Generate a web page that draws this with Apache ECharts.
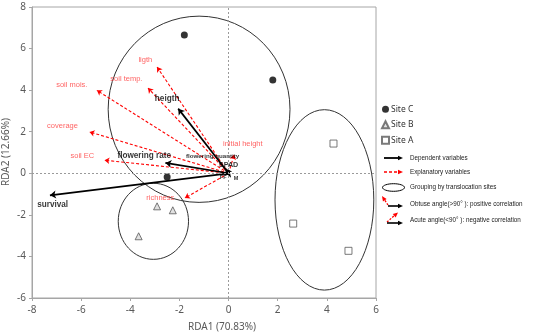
<!DOCTYPE html>
<html><head><meta charset="utf-8">
<script src="https://cdn.jsdelivr.net/npm/echarts@6/dist/echarts.min.js"></script>
<style>html,body{margin:0;padding:0;background:#fff}#c{width:550px;height:334px}</style>
</head><body><div id="c"></div>
<script>
// ---- data ----
const xTicks = [-8, -6, -4, -2, 0, 2, 4, 6];
const yTicks = [-6, -4, -2, 0, 2, 4, 6, 8];
const siteC = [[-1.8, 6.65], [1.8, 4.49], [-2.5, -0.18]];
const siteB = [[-2.91, -1.59], [-2.27, -1.78], [-3.66, -3.03]];
const siteA = [[4.27, 1.43], [2.63, -2.42], [4.88, -3.73]];

const depNames = ['heigth', 'flowering rate', 'survival', 'flowering quantity', 'SPAD'];
const depTips = [[-2.05, 3.11], [-2.57, 0.5], [-7.27, -1.06], [-0.12, 0.22], [0.04, 0.12]];
const depLabelPos = [[-2.5, 3.6], [-3.43, 0.82], [-7.16, -1.5], [-0.65, 0.82], [0.0, 0.38]];
const smallNames = ['FF', 'M'];
const smallLabelPos = [[-0.22, -0.2], [0.3, -0.24]];

const expNames = ['ligth', 'soil temp.', 'soil mois.', 'coverage', 'soil EC', 'initial height', 'richness'];
const expTips = [[-2.91, 5.11], [-3.28, 4.1], [-5.36, 3.99], [-5.66, 1.99], [-5.05, 0.63], [0.23, 0.9], [-1.78, -1.19]];
const expLabelPos = [[-3.39, 5.47], [-4.16, 4.52], [-6.38, 4.23], [-6.76, 2.26], [-5.95, 0.83], [0.58, 1.39], [-2.78, -1.17]];

const ellipseCenters = [[-1.2, 3.08], [-3.06, -2.31], [3.9, -1.28]];
const ellipseRadii = [[3.7, 4.48], [1.43, 1.83], [2.01, 4.34]];
const origin = [0, 0];

// ---- chart ----
const chart = echarts.init(document.getElementById('c'), null, {renderer: 'canvas'});
const tickFont = {color: '#595959', fontSize: 10, fontFamily: 'Noto Sans'};
const depSize = {'flowering quantity': 6.2, 'SPAD': 7.2};
const yTop = yTicks[yTicks.length - 1];

const depLines = depTips.map(t => ({coords: [origin, t]}));
const expLines = expTips.map(t => ({coords: [origin, t]}));
const depLabels = depNames.map((n, i) => ({name: n, value: depLabelPos[i],
  label: {fontSize: depSize[n] || 8.2}}));
smallNames.forEach((n, i) => depLabels.push({name: n, value: smallLabelPos[i], label: {fontSize: 5.5}}));
const expLabels = expNames.map((n, i) => ({name: n, value: expLabelPos[i]}));
const ellipseData = ellipseCenters.map((c, i) => [c[0], c[1], ellipseRadii[i][0], ellipseRadii[i][1]]);

function arrowHead(x1, y1, x2, y2, color) {
  const a = Math.atan2(y2 - y1, x2 - x1), L = 5, w = 2.2;
  const bx = x2 - L * Math.cos(a), by = y2 - L * Math.sin(a);
  return {type: 'polygon', shape: {points: [[x2, y2],
    [bx + w * Math.sin(a), by - w * Math.cos(a)], [bx - w * Math.sin(a), by + w * Math.cos(a)]]},
    style: {fill: color}};
}
const legTxt = (x, y, t) => ({type: 'text', x: x, y: y, style: {text: t, fill: '#222', fontSize: 6.3,
  fontFamily: 'Liberation Sans', verticalAlign: 'middle'}});

const option = {
  animation: false,
  backgroundColor: '#fff',
  grid: {left: 32, right: 174, top: 7, bottom: 36, show: true, borderColor: '#a6a6a6', borderWidth: 1},
  xAxis: {type: 'value', min: -8, max: 6, interval: 2,
    axisLine: {onZero: false, lineStyle: {color: '#a6a6a6'}},
    axisTick: {show: true, length: 3, lineStyle: {color: '#a6a6a6'}},
    axisLabel: Object.assign({margin: 7, formatter: v => xTicks.includes(v) ? String(v) : ''}, tickFont),
    splitLine: {show: false}},
  yAxis: {type: 'value', min: -6, max: 8, interval: 2,
    axisLine: {onZero: false, lineStyle: {color: '#a6a6a6'}},
    axisTick: {show: true, length: 3, lineStyle: {color: '#a6a6a6'}},
    // the top label is drawn separately below (it is dropped at the canvas edge otherwise)
    axisLabel: Object.assign({margin: 6, formatter: v => (yTicks.includes(v) && v !== yTop) ? String(v) : ''}, tickFont),
    splitLine: {show: false}},
  legend: {orient: 'vertical', left: 381, top: 104, itemGap: 5, itemWidth: 7, itemHeight: 7,
    padding: 0,
    data: ['Site C', 'Site B', 'Site A'],
    textStyle: {fontSize: 8.5, lineHeight: 10.5, color: '#333', fontFamily: 'Noto Sans', padding: [0, 0, 0, -3]}},
  series: [
    {type: 'custom', name: 'ellipses', silent: true, z: 1, data: ellipseData,
      renderItem: function (params, api) {
        const c = api.coord([api.value(0), api.value(1)]);
        const s = api.size([api.value(2), api.value(3)]);
        return {type: 'ellipse', shape: {cx: c[0], cy: c[1], rx: s[0], ry: s[1]},
          style: {fill: 'none', stroke: '#333', lineWidth: 1}};
      },
      markLine: {silent: true, symbol: 'none', label: {show: false},
        lineStyle: {color: '#9a9a9a', type: [2, 2], width: 1},
        data: [{xAxis: 0}, {yAxis: 0}]}},
    {type: 'lines', coordinateSystem: 'cartesian2d', z: 3, data: expLines,
      symbol: ['none', 'arrow'], symbolSize: 5,
      lineStyle: {color: '#ff0000', width: 1.1, type: [3, 2], opacity: 1}},
    {type: 'lines', coordinateSystem: 'cartesian2d', z: 4, data: depLines,
      symbol: ['none', 'arrow'], symbolSize: 6,
      lineStyle: {color: '#000', width: 1.7, opacity: 1}},
    {type: 'scatter', name: 'Site C', data: siteC, symbol: 'circle', symbolSize: 7, z: 5,
      itemStyle: {color: '#000'}},
    {type: 'scatter', name: 'Site B', data: siteB, symbol: 'triangle', symbolSize: 7, z: 5,
      itemStyle: {color: '#d9d9d9', borderColor: '#595959', borderWidth: 1}},
    {type: 'scatter', name: 'Site A', data: siteA, symbol: 'rect', symbolSize: 7, z: 5,
      itemStyle: {color: '#fff', borderColor: '#595959', borderWidth: 1}},
    {type: 'scatter', name: 'depLabels', data: depLabels, symbolSize: 0, z: 6, silent: true,
      label: {show: true, position: 'inside', formatter: p => p.name, color: '#000', fontWeight: 'bold',
        fontFamily: 'Liberation Sans'}},
    {type: 'scatter', name: 'expLabels', data: expLabels, symbolSize: 0, z: 6, silent: true,
      label: {show: true, position: 'inside', formatter: p => p.name, color: '#ff3b3b', fontSize: 7.5,
        fontFamily: 'Liberation Sans'}}
  ],
  graphic: [
    {type: 'text', x: 6, y: 152, rotation: Math.PI / 2, style: {text: 'RDA2 (12.66%)', fill: '#595959',
      fontSize: 10, fontFamily: 'Noto Sans', align: 'center', verticalAlign: 'middle'}},
    {type: 'text', x: 222, y: 327, style: {text: 'RDA1 (70.83%)', fill: '#595959',
      fontSize: 10, fontFamily: 'Noto Sans', align: 'center', verticalAlign: 'middle'}},
    {type: 'line', shape: {x1: 384, y1: 158, x2: 399, y2: 158}, style: {stroke: '#000', lineWidth: 1.8}},
    arrowHead(384, 158, 403, 158, '#000'),
    legTxt(410, 158, 'Dependent variables'),
    {type: 'line', shape: {x1: 384, y1: 172, x2: 399, y2: 172}, style: {stroke: '#ff0000', lineWidth: 1.5, lineDash: [3, 2]}},
    arrowHead(384, 172, 403, 172, '#ff0000'),
    legTxt(410, 172, 'Explanatory variables'),
    {type: 'ellipse', shape: {cx: 393.5, cy: 187.5, rx: 11, ry: 3.8}, style: {fill: 'none', stroke: '#000', lineWidth: 1}},
    legTxt(410, 187.5, 'Grouping by translocation sites'),
    {type: 'line', shape: {x1: 388, y1: 205, x2: 384, y2: 199}, style: {stroke: '#ff0000', lineWidth: 1.3, lineDash: [2, 1.5]}},
    arrowHead(388, 205, 382, 196, '#ff0000'),
    {type: 'line', shape: {x1: 388, y1: 206, x2: 399, y2: 206}, style: {stroke: '#000', lineWidth: 1.6}},
    arrowHead(388, 206, 403, 206, '#000'),
    legTxt(410, 204, 'Obtuse angle(>90° ): positive correlation'),
    {type: 'line', shape: {x1: 387, y1: 222, x2: 395, y2: 215}, style: {stroke: '#ff0000', lineWidth: 1.3, lineDash: [2, 1.5]}},
    arrowHead(387, 222, 398, 212.5, '#ff0000'),
    {type: 'line', shape: {x1: 387, y1: 223, x2: 399, y2: 223}, style: {stroke: '#000', lineWidth: 1.6}},
    arrowHead(387, 223, 403, 223, '#000'),
    legTxt(410, 220, 'Acute angle(<90° ): negative correlation')
  ]
};
chart.setOption(option);
// top y tick label, positioned through the axis scale
const topPx = chart.convertToPixel({gridIndex: 0}, [xTicks[0], yTop]);
chart.setOption({graphic: [{type: 'text', id: 'yTopLabel', x: topPx[0] - 6, y: Math.max(topPx[1], 6), z: 10,
  style: Object.assign({text: String(yTop), fill: '#595959', align: 'right', verticalAlign: 'middle'},
    {fontSize: 10, fontFamily: 'Noto Sans'})}]});
</script></body></html>
